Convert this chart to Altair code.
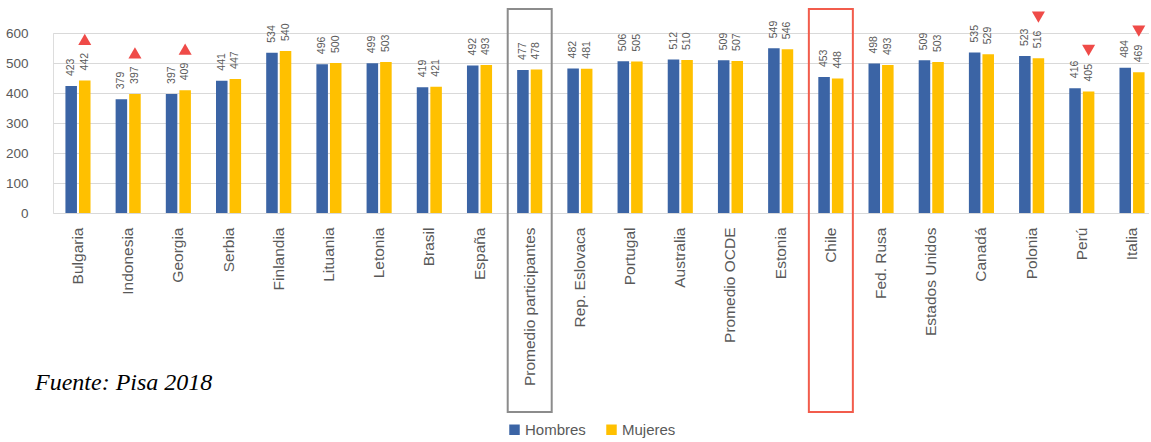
import altair as alt
import pandas as pd

countries = ["Bulgaria", "Indonesia", "Georgia", "Serbia", "Finlandia", "Lituania",
             "Letonia", "Brasil", "España", "Promedio participantes", "Rep. Eslovaca",
             "Portugal", "Australia", "Promedio OCDE", "Estonia", "Chile", "Fed. Rusa",
             "Estados Unidos", "Canadá", "Polonia", "Perú", "Italia"]
hombres = [423, 379, 397, 441, 534, 496, 499, 419, 492, 477, 482, 506, 512, 509, 549,
           453, 498, 509, 535, 523, 416, 484]
mujeres = [442, 397, 409, 447, 540, 500, 503, 421, 493, 478, 481, 505, 510, 507, 546,
           448, 493, 503, 529, 516, 405, 469]

arrow_countries = ["Bulgaria", "Indonesia", "Georgia", "Polonia", "Perú", "Italia"]
arrow_dirs = ["up", "up", "up", "down", "down", "down"]

box_countries = ["Promedio participantes", "Chile"]
box_colors = ["#8c8c8c", "#f25c4c"]

series = ["Hombres", "Mujeres"]
series_colors = ["#3b64a5", "#ffc000"]

y_ticks = [0, 100, 200, 300, 400, 500, 600]

rows = []
for c, h, m in zip(countries, hombres, mujeres):
    rows.append({"pais": c, "sexo": "Hombres", "valor": h})
    rows.append({"pais": c, "sexo": "Mujeres", "valor": m})
df = pd.DataFrame(rows)

muj = dict(zip(countries, mujeres))
df_arrows = pd.DataFrame({
    "pais": arrow_countries,
    "sexo": ["Mujeres"] * len(arrow_countries),
    "valor": [muj[c] for c in arrow_countries],
    "dir": arrow_dirs,
})
df_boxes = pd.DataFrame({"pais": box_countries, "col": box_colors,
                         "top": [680, 680], "bottom": [-663, -663]})

FONT = "Liberation Sans"
GREY = "#595959"

x_enc = alt.X("pais:N", sort=countries,
              scale=alt.Scale(paddingInner=0.5, paddingOuter=0.168, align=0.737),
              axis=alt.Axis(title=None, labelAngle=270, labelFontSize=15.5, labelFont=FONT,
                            labelColor=GREY, labelPadding=14, tickSize=0, domain=False,
                            labelLimit=300, grid=False))
y_scale = alt.Scale(domain=[0, 600], nice=False)
off = alt.XOffset("sexo:N", sort=series, scale=alt.Scale(paddingInner=0.15))

base = alt.Chart(df)

bars = base.mark_bar().encode(
    x=x_enc,
    xOffset=off,
    y=alt.Y("valor:Q", scale=y_scale,
            axis=alt.Axis(title=None, values=y_ticks, tickCount=7,
                          labelOverlap=False, labelFontSize=13.5, labelFont=FONT,
                          labelColor=GREY, labelPadding=25, tickSize=0, domain=False,
                          gridColor="#d9d9d9", gridWidth=1)),
    color=alt.Color("sexo:N", sort=series,
                    scale=alt.Scale(domain=series, range=series_colors),
                    legend=alt.Legend(orient="none", legendX=454, legendY=389,
                                      direction="horizontal", title=None,
                                      symbolType="square", symbolSize=110,
                                      symbolStrokeWidth=0, labelFontSize=15,
                                      labelFont=FONT, labelColor=GREY,
                                      labelOffset=3, columnPadding=18)),
)

labels = base.mark_text(angle=270, align="left", baseline="middle", dx=10,
                        fontSize=10.5, font=FONT, color=GREY).encode(
    x=alt.X("pais:N", sort=countries),
    xOffset=off,
    y=alt.Y("valor:Q", scale=y_scale),
    text=alt.Text("valor:Q"),
)

arrows = alt.Chart(df_arrows).transform_calculate(
    ty="datum.valor + 137"
).mark_point(filled=True, size=170, opacity=1, color="#ef4b48").encode(
    x=alt.X("pais:N", sort=countries),
    xOffset=off,
    y=alt.Y("ty:Q", scale=y_scale),
    shape=alt.Shape("dir:N", scale=alt.Scale(domain=["up", "down"],
                                             range=["triangle-up", "triangle-down"]),
                    legend=None),
)

boxes = alt.Chart(df_boxes).mark_bar(width=44, fillOpacity=0, strokeWidth=2).encode(
    x=alt.X("pais:N", sort=countries),
    y=alt.Y("top:Q", scale=y_scale),
    y2="bottom:Q",
    stroke=alt.Stroke("col:N", scale=None),
)

fuente = alt.Chart(pd.DataFrame({"t": ["Fuente: Pisa 2018"]})).mark_text(
    font="Liberation Serif", fontStyle="italic", fontSize=24, align="left",
    baseline="alphabetic", color="black").encode(
    x=alt.value(-18), y=alt.value(357), text="t:N")

chart = alt.layer(bars, labels, arrows, boxes, fuente).properties(
    width=1096, height=180,
    padding={"left": 53, "top": 33, "right": 0, "bottom": 227},
    autosize="none",
).configure_view(stroke=None).configure(background="white")

chart.save("out.html", embed_options={"renderer": "svg", "actions": False})
